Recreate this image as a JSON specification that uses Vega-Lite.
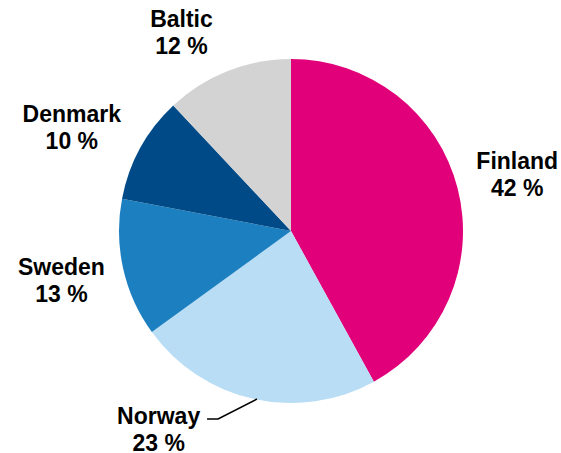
{
  "$schema": "https://vega.github.io/schema/vega-lite/v6.json",
  "width": 540,
  "height": 444,
  "padding": {"left": 21, "top": 9, "right": 0, "bottom": 0},
  "autosize": {"type": "none"},
  "background": "white",
  "config": {"view": {"stroke": null}, "text": {"dy": -13.5}},
  "datasets": {
    "shares": [
      {"country": "Finland", "value": 42, "rank": 1},
      {"country": "Norway", "value": 23, "rank": 2},
      {"country": "Sweden", "value": 13, "rank": 3},
      {"country": "Denmark", "value": 10, "rank": 4},
      {"country": "Baltic", "value": 12, "rank": 5}
    ],
    "leader": [
      {"px": -0.488, "py": -1.093, "k": 1},
      {"px": -0.424, "py": -1.093, "k": 2},
      {"px": -0.198, "py": -0.977, "k": 3}
    ]
  },
  "layer": [
    {
      "data": {"name": "shares"},
      "layer": [
        {
          "mark": {"type": "arc", "outerRadius": 172, "stroke": null},
          "encoding": {
            "theta": {"field": "value", "type": "quantitative", "stack": true},
            "order": {"field": "rank", "type": "quantitative", "sort": "ascending"},
            "color": {
              "field": "country",
              "type": "nominal",
              "scale": {
                "domain": ["Finland", "Norway", "Sweden", "Denmark", "Baltic"],
                "range": ["#E2007A", "#B8DDF5", "#1C7FC0", "#004B87", "#D3D3D3"]
              },
              "legend": null
            }
          }
        },
        {
          "transform": [{"calculate": "datum.country + '\\n' + datum.value + ' %'", "as": "label"}],
          "layer": [
            {
              "mark": {"type": "text", "radius": 233, "thetaOffset": 0.010, "dy": -13.5, "font": "Liberation Sans", "fontWeight": "bold", "fontSize": 23, "lineHeight": 27, "lineBreak": "\n", "color": "black"},
              "encoding": {
                "theta": {"field": "value", "type": "quantitative", "stack": true},
                "order": {"field": "rank", "type": "quantitative", "sort": "ascending"},
                "text": {"condition": {"test": "datum.country === 'Finland'", "field": "label"}, "value": ""}
              }
            },
            {
              "mark": {"type": "text", "radius": 239, "thetaOffset": 0.367, "dy": -13.5, "font": "Liberation Sans", "fontWeight": "bold", "fontSize": 23, "lineHeight": 27, "lineBreak": "\n", "color": "black"},
              "encoding": {
                "theta": {"field": "value", "type": "quantitative", "stack": true},
                "order": {"field": "rank", "type": "quantitative", "sort": "ascending"},
                "text": {"condition": {"test": "datum.country === 'Norway'", "field": "label"}, "value": ""}
              }
            },
            {
              "mark": {"type": "text", "radius": 235, "thetaOffset": 0.005, "dy": -13.5, "font": "Liberation Sans", "fontWeight": "bold", "fontSize": 23, "lineHeight": 27, "lineBreak": "\n", "color": "black"},
              "encoding": {
                "theta": {"field": "value", "type": "quantitative", "stack": true},
                "order": {"field": "rank", "type": "quantitative", "sort": "ascending"},
                "text": {"condition": {"test": "datum.country === 'Sweden'", "field": "label"}, "value": ""}
              }
            },
            {
              "mark": {"type": "text", "radius": 242, "thetaOffset": -0.065, "dy": -13.5, "font": "Liberation Sans", "fontWeight": "bold", "fontSize": 23, "lineHeight": 27, "lineBreak": "\n", "color": "black"},
              "encoding": {
                "theta": {"field": "value", "type": "quantitative", "stack": true},
                "order": {"field": "rank", "type": "quantitative", "sort": "ascending"},
                "text": {"condition": {"test": "datum.country === 'Denmark'", "field": "label"}, "value": ""}
              }
            },
            {
              "mark": {"type": "text", "radius": 226, "thetaOffset": -0.129, "dy": -13.5, "font": "Liberation Sans", "fontWeight": "bold", "fontSize": 23, "lineHeight": 27, "lineBreak": "\n", "color": "black"},
              "encoding": {
                "theta": {"field": "value", "type": "quantitative", "stack": true},
                "order": {"field": "rank", "type": "quantitative", "sort": "ascending"},
                "text": {"condition": {"test": "datum.country === 'Baltic'", "field": "label"}, "value": ""}
              }
            }
          ]
        }
      ]
    },
    {
      "data": {"name": "leader"},
      "mark": {"type": "line", "color": "black", "strokeWidth": 1.6},
      "encoding": {
        "x": {"field": "px", "type": "quantitative", "scale": {"domain": [-1.5698, 1.5698], "nice": false, "zero": false}, "axis": null},
        "y": {"field": "py", "type": "quantitative", "scale": {"domain": [-1.2907, 1.2907], "nice": false, "zero": false}, "axis": null},
        "order": {"field": "k", "type": "quantitative"}
      }
    }
  ]
}
